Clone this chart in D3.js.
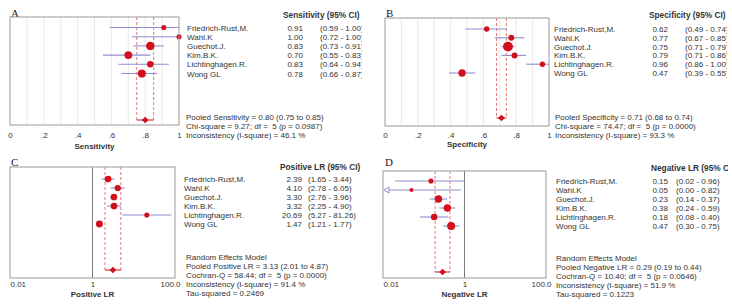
<!DOCTYPE html>
<html>
<head>
<meta charset="utf-8">
<script src="https://cdn.jsdelivr.net/npm/d3@7"></script>
<style>
body { margin: 0; background: #fff; }
svg { font-family: "Liberation Sans", Arial, sans-serif; }
text { white-space: pre; }
</style>
</head>
<body>
<svg id="chart" width="732" height="306"></svg>
<script>
var studies = ["Friedrich-Rust,M.", "Wahl.K", "Guechot.J.", "Kim.B.K.", "Lichtinghagen.R.", "Wong GL"];

var sensitivity = [0.91, 1.00, 0.83, 0.70, 0.83, 0.78];
var sensitivityLow = [0.59, 0.72, 0.73, 0.55, 0.64, 0.66];
var sensitivityHigh = [1.00, 1.00, 0.91, 0.83, 0.94, 0.87];
var sensitivityWeight = [8, 8, 22, 19, 13, 21];

var specificity = [0.62, 0.77, 0.75, 0.79, 0.96, 0.47];
var specificityLow = [0.49, 0.67, 0.71, 0.71, 0.86, 0.39];
var specificityHigh = [0.74, 0.85, 0.79, 0.86, 1.00, 0.55];
var specificityWeight = [9, 11, 30, 11, 9, 17];

var positiveLR = [2.39, 4.10, 3.30, 3.32, 20.69, 1.47];
var positiveLRLow = [1.65, 2.78, 2.76, 2.25, 5.27, 1.21];
var positiveLRHigh = [3.44, 6.05, 3.96, 4.90, 81.26, 1.77];
var positiveLRWeight = [14, 12, 14, 14, 8, 15];

var negativeLR = [0.15, 0.05, 0.23, 0.38, 0.18, 0.47];
var negativeLRLow = [0.02, 0.00, 0.14, 0.24, 0.08, 0.30];
var negativeLRHigh = [0.96, 0.82, 0.37, 0.59, 0.40, 0.75];
var negativeLRWeight = [8, 5, 17, 17, 13, 20];

var pooled = [0.80, 0.71, 3.13, 0.29];
var pooledLow = [0.75, 0.68, 2.01, 0.19];
var pooledHigh = [0.85, 0.74, 4.87, 0.44];

var propTicks = [0, 0.2, 0.4, 0.6, 0.8, 1];
var propTickLabels = ["0", ".2", ".4", ".6", ".8", "1"];
var propGrid = [0.1, 0.2, 0.3, 0.4, 0.5, 0.6, 0.7, 0.8, 0.9];
var lrTicks = [0.01, 1, 100];
var lrTickLabels = ["0.01", "1", "100.0"];

var sensitivityStats = ["Pooled Sensitivity = 0.80 (0.75 to 0.85)", "Chi-square = 9.27; df =  5 (p = 0.0987)", "Inconsistency (I-square) = 46.1 %"];
var specificityStats = ["Pooled Specificity = 0.71 (0.68 to 0.74)", "Chi-square = 74.47; df =  5 (p = 0.0000)", "Inconsistency (I-square) = 93.3 %"];
var positiveLRStats = ["Random Effects Model", "Pooled Positive LR = 3.13 (2.01 to 4.87)", "Cochran-Q = 58.44; df =  5 (p = 0.0000)", "Inconsistency (I-square) = 91.4 %", "Tau-squared = 0.2469"];
var negativeLRStats = ["Random Effects Model", "Pooled Negative LR = 0.29 (0.19 to 0.44)", "Cochran-Q = 10.40; df =  5 (p = 0.0646)", "Inconsistency (I-square) = 51.9 %", "Tau-squared = 0.1223"];

var panels = [
	{ letter: "A", title: "Sensitivity", header: "Sensitivity (95% CI)", log: false,
	  est: sensitivity, lo: sensitivityLow, hi: sensitivityHigh, w: sensitivityWeight, stats: sensitivityStats, p: 0,
	  x0: 10, x1: 179, y0: 17, y1: 125, rows: [27.5, 73.5], diamondY: 120,
	  namesX: 187, headerX: 283, valX: 303, ciX: 320, clipX: 362, headerY: 18, statsX: 186, statsY: 120, ticksY: 138, titleY: 149, letterX: 11, letterY: 17 },
	{ letter: "B", title: "Specificity", header: "Specificity (95% CI)", log: false,
	  est: specificity, lo: specificityLow, hi: specificityHigh, w: specificityWeight, stats: specificityStats, p: 1,
	  x0: 385, x1: 549, y0: 18, y1: 126, rows: [29, 73], diamondY: 118,
	  namesX: 554, headerX: 649, valX: 668, ciX: 685, clipX: 727, headerY: 18, statsX: 555, statsY: 120, ticksY: 138, titleY: 147, letterX: 386, letterY: 17 },
	{ letter: "C", title: "Positive LR", header: "Positive LR (95% CI)", log: true,
	  est: positiveLR, lo: positiveLRLow, hi: positiveLRHigh, w: positiveLRWeight, stats: positiveLRStats, p: 2,
	  x0: 10, x1: 175, y0: 167, y1: 278, rows: [179, 224], diamondY: 270,
	  namesX: 184, headerX: 280, valX: 302, ciX: 308, clipX: 363, headerY: 170, statsX: 186, statsY: 260, ticksY: 287, titleY: 297, letterX: 11, letterY: 166 },
	{ letter: "D", title: "Negative LR", header: "Negative LR (95% CI)", log: true,
	  est: negativeLR, lo: negativeLRLow, hi: negativeLRHigh, w: negativeLRWeight, stats: negativeLRStats, p: 3,
	  x0: 383, x1: 546, y0: 171, y1: 278, rows: [181, 226], diamondY: 272,
	  namesX: 556, headerX: 651, valX: 668, ciX: 676, clipX: 728, headerY: 171, statsX: 556, statsY: 261, ticksY: 287, titleY: 297, letterX: 385, letterY: 166 }
];

var svg = d3.select("#chart");
var red = "#d20f1b";
var ciColor = "#8e8ed2";
var rScale = d3.scaleSqrt().domain([0, 100]).range([0, 9]);
var lineH = 9;

panels.forEach(function(P, k) {
	var x = P.log
		? d3.scaleLog().domain([0.01, 100]).range([P.x0, P.x1])
		: d3.scaleLinear().domain([0, 1]).range([P.x0, P.x1]);
	var y = d3.scalePoint().domain(studies).range(P.rows);
	var g = svg.append("g");

	// panel letter
	g.append("text")
		.attr("x", P.letterX).attr("y", P.letterY)
		.attr("font-family", "'Liberation Serif', serif")
		.attr("font-size", 11).attr("fill", "#222")
		.text(P.letter);

	// grid
	if (!P.log) {
		g.selectAll(".grid").data(propGrid).enter().append("line")
			.attr("x1", function(d) { return x(d); }).attr("x2", function(d) { return x(d); })
			.attr("y1", P.y0).attr("y2", P.y1)
			.attr("stroke", "#e3e3e3").attr("stroke-width", 0.8);
	} else {
		g.append("line")
			.attr("x1", x(1)).attr("x2", x(1))
			.attr("y1", P.y0).attr("y2", P.y1)
			.attr("stroke", "#7a7a7a").attr("stroke-width", 1);
	}

	// pooled CI dashed lines
	[pooledLow[P.p], pooledHigh[P.p]].forEach(function(v) {
		g.append("line")
			.attr("x1", x(v)).attr("x2", x(v))
			.attr("y1", P.y0).attr("y2", P.diamondY)
			.attr("stroke", "#e06a6a").attr("stroke-width", 0.9)
			.attr("stroke-dasharray", "3,2");
	});
	g.append("line")
		.attr("x1", x(pooledLow[P.p])).attr("x2", x(pooledHigh[P.p]))
		.attr("y1", P.diamondY).attr("y2", P.diamondY)
		.attr("stroke", red).attr("stroke-width", 1);

	var data = studies.map(function(s, i) {
		return { name: s, est: P.est[i], lo: P.lo[i], hi: P.hi[i], w: P.w[i] };
	});

	// CI lines
	g.selectAll(".ci").data(data).enter().append("line")
		.attr("x1", function(d) { return d.lo > x.domain()[0] ? x(d.lo) : P.x0 + 5; })
		.attr("x2", function(d) { return x(Math.min(d.hi, x.domain()[1])); })
		.attr("y1", function(d) { return y(d.name); })
		.attr("y2", function(d) { return y(d.name); })
		.attr("stroke", ciColor).attr("stroke-width", 1.1);

	// arrow for CI beyond axis
	data.filter(function(d) { return d.lo <= x.domain()[0]; }).forEach(function(d) {
		var cy = y(d.name);
		g.append("path")
			.attr("d", "M" + (P.x0 + 1) + "," + cy + "L" + (P.x0 + 6) + "," + (cy - 3) + "L" + (P.x0 + 6) + "," + (cy + 3) + "Z")
			.attr("fill", "#fff").attr("stroke", ciColor).attr("stroke-width", 1);
	});

	// markers
	g.selectAll(".pt").data(data).enter().append("circle")
		.attr("cx", function(d) { return x(d.est); })
		.attr("cy", function(d) { return y(d.name); })
		.attr("r", function(d) { return rScale(d.w); })
		.attr("fill", red);

	// pooled diamond
	g.append("path")
		.attr("d", d3.symbol().type(d3.symbolSquare).size(22))
		.attr("transform", "translate(" + x(pooled[P.p]) + "," + P.diamondY + ") rotate(45)")
		.attr("fill", red);

	// box
	g.append("rect")
		.attr("x", P.x0).attr("y", P.y0)
		.attr("width", P.x1 - P.x0).attr("height", P.y1 - P.y0)
		.attr("fill", "none").attr("stroke", "#9a9a9a").attr("stroke-width", 1);

	// axis
	var ticks = P.log ? lrTicks : propTicks;
	var labels = P.log ? lrTickLabels : propTickLabels;
	var axis = d3.axisBottom(x)
		.tickValues(ticks)
		.tickFormat(function(d, i) { return labels[i]; })
		.tickSize(0)
		.tickPadding(0);
	var ax = g.append("g")
		.attr("transform", "translate(0," + (P.ticksY - 6) + ")")
		.call(axis);
	ax.select(".domain").remove();
	ax.selectAll("text")
		.attr("font-size", 8).attr("fill", "#333")
		.attr("font-family", "'Liberation Sans', Arial, sans-serif")
		.attr("dy", 0).attr("y", 6);
	if (P.log) {
		ax.selectAll("text")
			.attr("text-anchor", function(d, i) { return i === 0 ? "start" : "middle"; })
			.attr("dx", function(d, i) { return i === ticks.length - 1 ? -5 : 0; });
	}

	g.append("text")
		.attr("x", (P.x0 + P.x1) / 2).attr("y", P.titleY)
		.attr("text-anchor", "middle")
		.attr("font-size", 8).attr("font-weight", "bold").attr("fill", "#333")
		.text(P.title);

	// table column, clipped like the source table
	svg.append("clipPath").attr("id", "clip" + k)
		.append("rect")
		.attr("x", P.namesX - 2).attr("y", P.y0 - 15)
		.attr("width", P.clipX - P.namesX + 2).attr("height", 100);
	var t = svg.append("g").attr("clip-path", "url(#clip" + k + ")")
		.attr("font-size", 8).attr("fill", "#333");

	t.append("text")
		.attr("x", P.headerX).attr("y", P.headerY)
		.attr("font-weight", "bold").attr("font-size", 8.3)
		.text(P.header);

	t.selectAll(".nm").data(data).enter().append("text")
		.attr("x", P.namesX)
		.attr("y", function(d) { return y(d.name) + 3; })
		.text(function(d) { return d.name; });

	t.selectAll(".vl").data(data).enter().append("text")
		.attr("x", P.valX).attr("text-anchor", "end")
		.attr("y", function(d) { return y(d.name) + 3; })
		.text(function(d) { return d.est.toFixed(2); });

	t.selectAll(".cl").data(data).enter().append("text")
		.attr("x", P.ciX)
		.attr("y", function(d) { return y(d.name) + 3; })
		.text(function(d) { return "(" + d.lo.toFixed(2) + " - " + d.hi.toFixed(2) + ")"; });

	// statistics
	g.selectAll(".st").data(P.stats).enter().append("text")
		.attr("x", P.statsX)
		.attr("y", function(d, i) { return P.statsY + i * lineH; })
		.attr("font-size", 8).attr("fill", "#333")
		.text(function(d) { return d; });
});
</script>
</body>
</html>
